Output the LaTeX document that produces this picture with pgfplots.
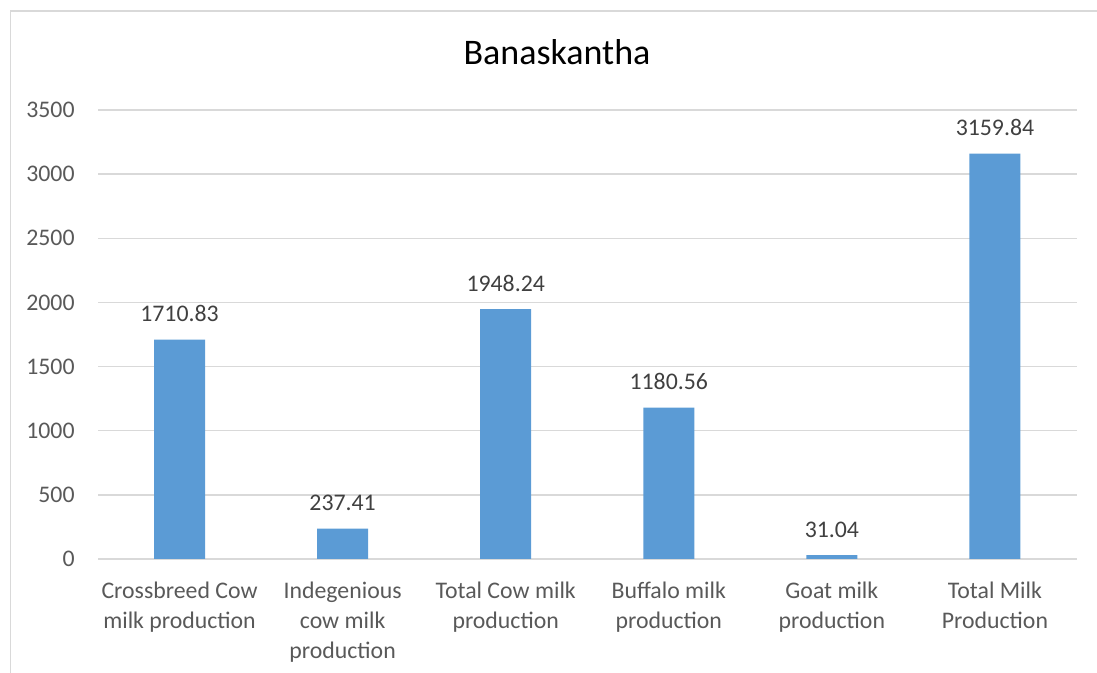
\documentclass[border=0pt]{standalone}
\usepackage{pgfplots}
\pgfplotsset{compat=1.18}
\usepackage{pgfplotstable}
\usepackage{fontspec}
\setmainfont{Carlito}
\definecolor{barblue}{HTML}{5B9BD5}
\definecolor{gridgray}{HTML}{D9D9D9}
\definecolor{ticktext}{HTML}{595959}
\definecolor{labeltext}{HTML}{404040}
\pgfplotstableread{
x y lab
0 1710.83 1710.83
1 237.41 237.41
2 1948.24 1948.24
3 1180.56 1180.56
4 31.04 31.04
5 3159.84 3159.84
}\datatable
\begin{document}
\begin{tikzpicture}[x=1pt,y=1pt]
\path[use as bounding box] (0,0) rectangle (548.5,336.5);
\draw[gridgray, line width=0.75pt] (5.25,0) -- (5.25,331) -- (548.5,331);
\node[anchor=base, font=\fontsize{18}{22}\selectfont, text=black] at (278.5,304) {Banaskantha};
\begin{axis}[
  at={(49pt,57pt)}, anchor=south west,
  scale only axis,
  width=489.25pt, height=224.5pt,
  xmin=-0.5, xmax=5.5,
  ymin=0, ymax=3500,
  ytick={0,500,...,3500},
  xtick=data,
  xticklabels={{Crossbreed Cow\\milk production},{Indegenious\\cow milk\\production},{Total Cow milk\\production},{Buffalo milk\\production},{Goat milk\\production},{Total Milk\\Production}},
  axis line style={draw=none},
  major tick length=0pt,
  ymajorgrids,
  grid style={gridgray, line width=0.75pt},
  /pgf/number format/assume math mode=true,
  /pgf/number format/1000 sep={},
  tick label style={font=\fontsize{11.9}{15}\selectfont, text=ticktext},
  yticklabel style={anchor=east, inner sep=0pt, xshift=-11.5pt},
  xticklabel style={align=center, anchor=north, inner sep=0pt, yshift=-11.5pt},
  clip=false,
]
\addplot[ybar, bar width=25.5pt, fill=barblue, draw=none,
  nodes near coords, point meta=explicit symbolic,
  nodes near coords style={anchor=base, inner sep=0pt, yshift=9pt, font=\fontsize{11.9}{15}\selectfont, text=labeltext}]
  table[x=x, y=y, meta=lab] {\datatable};
\end{axis}
\end{tikzpicture}
\end{document}
